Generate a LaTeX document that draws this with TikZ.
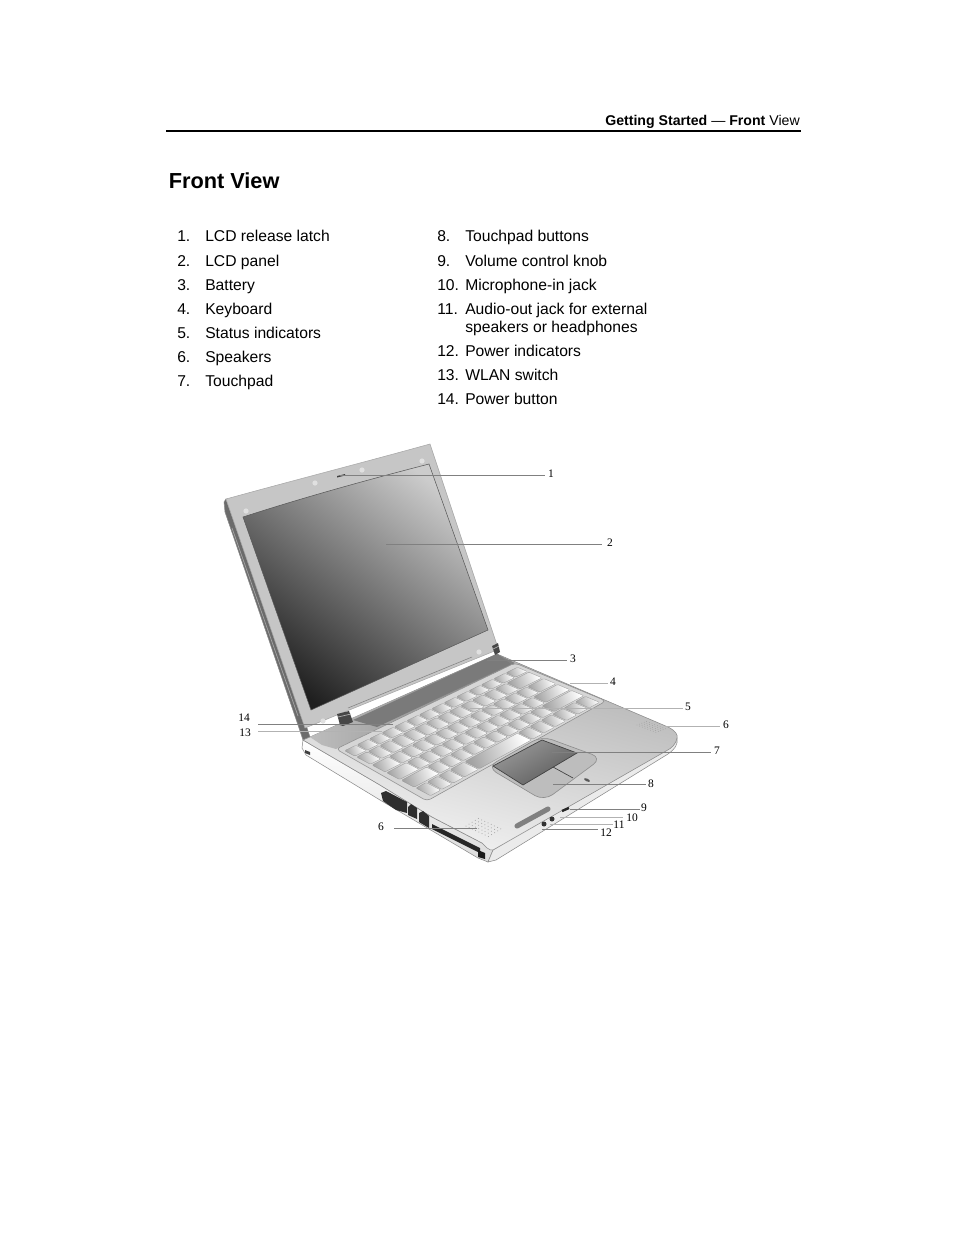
\documentclass[tikz,border=0pt]{standalone}
\usepackage{fontspec}
\setmainfont{Liberation Sans}
\newfontfamily\labfont{Liberation Serif}
\usetikzlibrary{calc}
\definecolor{bezel}{HTML}{C6C6C6}
\definecolor{leader}{HTML}{808080}
\definecolor{edgeg}{HTML}{8A8A8A}
\tikzset{
  listtxt/.style={anchor=base west,inner sep=0,font=\fontsize{11.75}{14}\selectfont},
  callout/.style={inner sep=0,font=\labfont\fontsize{8.6}{10}\selectfont},
  leadline/.style={draw=leader,line width=0.45pt},
  softline/.style={draw=black!30,line width=0.45pt},
  keycap/.style={draw=black!40,line width=0.25pt,top color=white,bottom color=black!36,shading angle=-70},
  body/.style={draw=edgeg,line width=0.4pt},
  bump/.style={fill=white!88!black,draw=none},
  porthole/.style={fill=black!80,draw=none},
  grille/.style={fill=black!38,draw=none}
}
\begin{document}
\begin{tikzpicture}[x=0.75pt,y=-0.75pt]
\useasboundingbox (0,0) rectangle (954,1235);
% header
\node[anchor=base east,inner sep=0,font=\fontsize{10.6}{13}\selectfont] (hdr) at (800,125) {\textbf{Getting Started} --- \textbf{Front} View};
\coordinate (ruleL) at (166,131); \coordinate (ruleR) at (801,131);
\draw[line width=1.5pt] (ruleL) -- (ruleR);
\node[anchor=base west,inner sep=0,font=\bfseries\fontsize{16.3}{20}\selectfont] (title) at (168.5,188) {Front View};
% lists
\foreach \y/\n/\t [count=\i] in {241/1./LCD release latch,266/2./LCD panel,290/3./Battery,314/4./Keyboard,338/5./Status indicators,362/6./Speakers,386/7./Touchpad}{
  \node[listtxt] (na\i) at (177,\y) {\n};
  \node[listtxt] (ta\i) at (205,\y) {\t};
}
\foreach \y/\n/\t [count=\i] in {241/8./Touchpad buttons,266/9./Volume control knob,290/10./Microphone-in jack,314/11./Audio-out jack for external,332//speakers or headphones,356/12./Power indicators,380/13./WLAN switch,404/14./Power button}{
  \node[listtxt] (nb\i) at (437,\y) {\n};
  \node[listtxt] (tb\i) at (465,\y) {\t};
}
% lid side
\fill[black!58,draw=edgeg,line width=.4pt] (226,499) -- (224,502) -- (225,512) -- (297,722) -- (303,740) -- (310,737) -- (305,722) -- cycle;
\draw[black!35,line width=.5pt] (232,528) -- (298,716);
% base side faces
\path[body,top color=white,bottom color=black!14] (303,740) -- (302,748) -- (306,755) -- (380,800) -- (478,858) -- (488,862) -- (493,850) -- (482,843) -- (432,817) -- (380,785) -- cycle;
\path[body,fill=black!8] (493,850) -- (488,862) -- (496,860) -- (668,754) .. controls (675,749) and (678,745) .. (677,738) -- cycle;
% deck
\path[body,top color=black!30,bottom color=black!4,shading angle=-15] (303,740) -- (310,737) -- (497,654) -- (668,727) .. controls (676,731) and (678,735) .. (677,738) .. controls (676,744) and (672,748) .. (666,751) -- (493,850) .. controls (489,851) and (485,846) .. (482,843) -- (432,817) -- (380,785) -- cycle;
% battery
\path[left color=black!26,right color=black!50] (310,737) -- (497,654) -- (515,663) -- (336,749) -- (322,745) -- cycle;
\path[fill=black!52] (353,720) -- (497,654) -- (511,664) -- (377,727) -- cycle;
\fill[black!30] (392,724) -- (441,703) -- (443,705) -- (396,725) -- cycle;
% keyboard tray
\path[draw=black!45,line width=.4pt,fill=black!16,rounded corners=3pt] (336,749) -- (515,663) -- (606,701) -- (427,801) -- cycle;
\coordinate (A) at (344,751); \coordinate (B) at (518,667);
\coordinate (C) at (600,702); \coordinate (D) at (430,796);
\foreach \va/\vb/\lst in {
 0.00/0.12/{1.07,1.07,1.07,1.07,1.07,1.07,1.07,1.07,1.07,1.07,1.07,1.07,1.07,1.09},
 0.14/0.30/{1,1,1,1,1,1,1,1,1,1,1,1,1,2},
 0.32/0.47/{1.5,1,1,1,1,1,1,1,1,1,1,1,1,1.5},
 0.49/0.64/{1.8,1,1,1,1,1,1,1,1,1,1,1,2.2},
 0.66/0.81/{2.3,1,1,1,1,1,1,1,1,1,1,2.7},
 0.83/1.00/{1,1,1,1.3,4.7,1,1,1,1,1,1}}{
  \gdef\kpos{0}
  \foreach \k in \lst {
    \pgfmathsetmacro\uan{(\kpos+.05)/15}
    \pgfmathsetmacro\uen{\kpos+\k}
    \pgfmathsetmacro\ubn{(\uen-.05)/15}
    \xdef\kpos{\uen}
    \path[keycap,rounded corners=.8pt]
      ($($(A)!\uan!(B)$)!\va!($(D)!\uan!(C)$)$) --
      ($($(A)!\ubn!(B)$)!\va!($(D)!\ubn!(C)$)$) --
      ($($(A)!\ubn!(B)$)!\vb!($(D)!\ubn!(C)$)$) --
      ($($(A)!\uan!(B)$)!\vb!($(D)!\uan!(C)$)$) -- cycle;
  }
}
% touchpad
\path[draw=black!45,line width=.45pt,fill=black!26,rounded corners=8pt] (487,767) -- (542,736) -- (602,758) -- (544,801) -- cycle;
\path[draw=black!75,line width=.5pt,top color=black!40,bottom color=black!64,shading angle=30] (493,766) -- (542,740) -- (577,753) -- (523,785) -- cycle;
\path[draw=black!75,line width=.5pt] (553,767) -- (573,778);
\fill[black!65,rotate around={-25:(587,780)}] (587,780) ellipse (3.2 and 1.3);
% speakers
\foreach \i in {0,...,7}{\foreach \j in {0,...,4}{
  \fill[grille] ({637+\i*2.7+\j*2.4},{725+\i*1.05-\j*0.9}) circle (.45);
  \fill[grille] ({466+\i*3.2+\j*3.1},{826+\i*1.5-\j*1.9}) circle (.5);
}}
% left side ports
\fill[black!82] (381,793) -- (386,791) -- (407,802) -- (407,813) -- (396,810) -- (383,801) -- cycle;
\fill[black!82] (408,807) -- (411,804) -- (417,808) -- (417,819) -- (408,815) -- cycle;
\fill[black!82] (419,813) -- (423,811) -- (429,816) -- (429,828) -- (419,822) -- cycle;
\fill[black!85] (432,824) -- (480,848) -- (480,853) -- (432,829) -- cycle;
\fill[black!90] (478,850) -- (485,853) -- (485,859) -- (478,857) -- cycle;
\fill[black!75] (305,750) -- (310,752) -- (310,755) -- (305,753) -- cycle;
% front controls
\draw[line width=3.8pt,line cap=round,black!50] (517,826) -- (548,809);
\draw[line width=1.8pt,black!85] (562,811) -- (569,808);
\fill[porthole] (552,819) circle (2.5);
\fill[porthole] (544,824) circle (2.5);
% lid
\path[draw=black!35,line width=.4pt,fill=bezel] (226,499) .. controls (295,480) and (365,462) .. (430,444) -- (498,648) -- (497,650) -- (305,728) -- cycle;
\draw[black!50,line width=.4pt] (348,708) -- (472,657);
\path[draw=black!65,line width=.4pt,top color=black!20,bottom color=black!88,shading angle=-38] (243,517) .. controls (305,497) and (367,480) .. (429,464) -- (488,630) -- (311,710) -- cycle;
\foreach \x/\y in {246/511,315/483,362/470,422/461,479/652,323/721}{\fill[bump] (\x,\y) circle (2.6);}
\fill[black!75] (337,476) -- (345,474) -- (345,475.5) -- (337,477.5) -- cycle;
% hinges
\path[fill=black!72] (337,714) -- (349,711) -- (353,722) -- (343,726) -- (340,725) -- cycle;
\draw[black!30,line width=.5pt] (338,717) -- (351,714);
\path[fill=black!72] (492,646) -- (498,643) -- (500,652) -- (495,655) -- cycle;
\draw[black!30,line width=.5pt] (493,649) -- (499,646);
% callouts
\foreach \nm/\x/\y/\t in {c1/551/473.7/1,c2/610/542.7/2,c3/573/658.7/3,c4/613/681.7/4,c5/688/706.7/5,c6/726/724.7/6,c7/717/750.7/7,c8/651/783.7/8,c9/644/807.7/9,c10/632/817.7/10,c11/619/824.7/11,c12/606/832.7/12,c13/245/732.7/13,c14/244/717.7/14,c6b/381/826.7/6}{
  \node[callout] (\nm) at (\x,\y) {\t};
}
\foreach \nm/\x/\y in {p1/340/475.5,e1/545/475.5,p2/386/544,e2/602/544,p3/487/660,e3/567/660,p4/570/683,e4/608/683,p5/470/708,e5/683/708,p6/665/726,e6/720/726,p7/552/752,e7/711/752,p8/553/784,e8/646/784,p9/570/809,e9/640/809,p10/560/817,e10/623/817,p11/550/824,e11/613/824,p12/542/829,e12/598/829,p14/393/724,e14/258/724,p13/382/731,e13/258/731,p6b/477/828,e6b/394/828}{
  \coordinate (\nm) at (\x,\y);
}
\foreach \n in {1,2,3,7,8,9,12,14,6b}{\draw[leadline] (p\n) -- (e\n);}
\foreach \n in {4,5,6,10,11,13}{\draw[softline] (p\n) -- (e\n);}
\end{tikzpicture}
\end{document}
